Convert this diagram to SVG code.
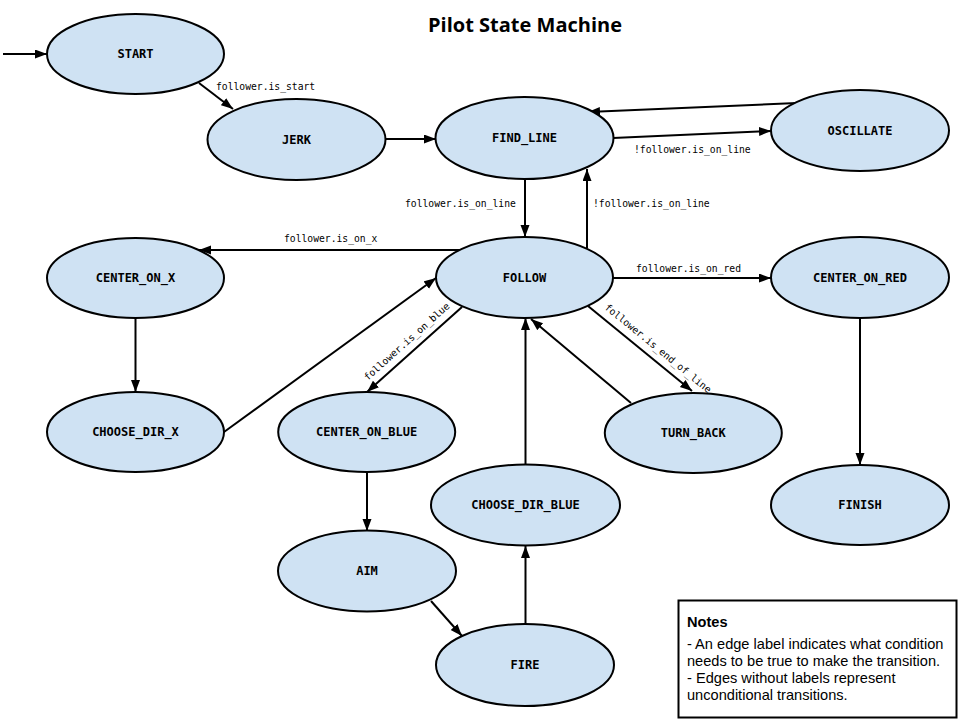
<svg xmlns="http://www.w3.org/2000/svg" width="960" height="720" viewBox="0 0 960 720">
<style>
.node ellipse{fill:#cfe2f3;stroke:#000;stroke-width:2}
.node text{font-family:"DejaVu Sans Mono","Liberation Mono",monospace;font-weight:bold;font-size:12px;text-anchor:middle;fill:#000}
.edges line{stroke:#000;stroke-width:2;marker-end:url(#arr)}
.lbl{font-family:"DejaVu Sans Mono","Liberation Mono",monospace;font-size:9.7px;fill:#000}
.title{font-family:"Open Sans","Noto Sans",sans-serif;font-weight:bold;font-size:20px;text-anchor:middle}
.notes text{font-family:"Liberation Sans",Arial,sans-serif;font-size:14.6px;fill:#000}
</style>
<defs>
<marker id="arr" markerUnits="userSpaceOnUse" markerWidth="13" markerHeight="10" refX="12" refY="4.5" orient="auto">
<path d="M0,0 L12,4.5 L0,9 z" fill="#000"/>
</marker>
</defs>
<rect width="960" height="720" fill="#fff"/>
<text class="title" x="525" y="32">Pilot State Machine</text>

<g class="edges">
<line x1="3" y1="54" x2="47" y2="54"/>
<line x1="199" y1="83" x2="233" y2="109"/>
<line x1="386" y1="139" x2="436" y2="139"/>
<line x1="613" y1="138" x2="771" y2="131"/>
<line x1="797" y1="103" x2="588" y2="112"/>
<line x1="525" y1="179" x2="525" y2="237"/>
<line x1="587" y1="248" x2="587" y2="169"/>
<line x1="460" y1="250" x2="199" y2="250"/>
<line x1="135.5" y1="318" x2="135.5" y2="392"/>
<line x1="224" y1="432" x2="436" y2="278"/>
<line x1="462" y1="307" x2="367" y2="392"/>
<line x1="367" y1="472" x2="367" y2="531"/>
<line x1="431" y1="601" x2="462" y2="636"/>
<line x1="525.5" y1="624" x2="525.5" y2="546"/>
<line x1="525.5" y1="464" x2="525.5" y2="318"/>
<line x1="631" y1="403" x2="531" y2="319"/>
<line x1="588" y1="306" x2="692" y2="391"/>
<line x1="613" y1="278" x2="771" y2="278"/>
<line x1="860" y1="318" x2="860" y2="465"/>
<text class="lbl" x="216" y="90">follower.is_start</text>
<text class="lbl" x="634" y="153">!follower.is_on_line</text>
<text class="lbl" x="405" y="207">follower.is_on_line</text>
<text class="lbl" x="593" y="207">!follower.is_on_line</text>
<text class="lbl" x="284" y="242">follower.is_on_x</text>
<text class="lbl" x="636" y="272">follower.is_on_red</text>
<text class="lbl" text-anchor="middle" transform="translate(409,344) rotate(-41.8)">follower.is_on_blue</text>
<text class="lbl" text-anchor="middle" transform="translate(656,351) rotate(39.3)">follower.is_end_of_line</text>
</g>

<g id="START" class="node"><ellipse cx="135.5" cy="54" rx="88.5" ry="40"/><text x="135.5" y="58">START</text></g>
<g id="JERK" class="node"><ellipse cx="296.5" cy="139.5" rx="89" ry="40.5"/><text x="296.5" y="143.5">JERK</text></g>
<g id="FIND_LINE" class="node"><ellipse cx="524.5" cy="138" rx="89" ry="41"/><text x="524.5" y="142">FIND_LINE</text></g>
<g id="OSCILLATE" class="node"><ellipse cx="860" cy="130.5" rx="89" ry="40.5"/><text x="860" y="134.5">OSCILLATE</text></g>
<g id="CENTER_ON_X" class="node"><ellipse cx="135.5" cy="278" rx="88.5" ry="40"/><text x="135.5" y="282">CENTER_ON_X</text></g>
<g id="FOLLOW" class="node"><ellipse cx="524.5" cy="277.5" rx="88.5" ry="40.5"/><text x="524.5" y="281.5">FOLLOW</text></g>
<g id="CENTER_ON_RED" class="node"><ellipse cx="860" cy="277.5" rx="89" ry="40.5"/><text x="860" y="281.5">CENTER_ON_RED</text></g>
<g id="CHOOSE_DIR_X" class="node"><ellipse cx="135.5" cy="432" rx="88.5" ry="40"/><text x="135.5" y="436">CHOOSE_DIR_X</text></g>
<g id="CENTER_ON_BLUE" class="node"><ellipse cx="366.7" cy="432" rx="88.5" ry="40"/><text x="366.7" y="436">CENTER_ON_BLUE</text></g>
<g id="TURN_BACK" class="node"><ellipse cx="693.3" cy="433" rx="88.5" ry="40"/><text x="693.3" y="437">TURN_BACK</text></g>
<g id="CHOOSE_DIR_BLUE" class="node"><ellipse cx="525.5" cy="505" rx="94.5" ry="40.5"/><text x="525.5" y="509">CHOOSE_DIR_BLUE</text></g>
<g id="FINISH" class="node"><ellipse cx="860" cy="505" rx="89" ry="40"/><text x="860" y="509">FINISH</text></g>
<g id="AIM" class="node"><ellipse cx="367" cy="571" rx="89" ry="40.5"/><text x="367" y="575">AIM</text></g>
<g id="FIRE" class="node"><ellipse cx="525" cy="665" rx="89" ry="41"/><text x="525" y="669">FIRE</text></g>

<g id="notes" class="notes">
<rect x="678.5" y="600.5" width="278" height="117" fill="#fff" stroke="#000" stroke-width="2"/>
<text x="687" y="627" font-weight="bold">Notes</text>
<text x="687" y="649">- An edge label indicates what condition</text>
<text x="687" y="666">needs to be true to make the transition.</text>
<text x="687" y="683">- Edges without labels represent</text>
<text x="687" y="700">unconditional transitions.</text>
</g>
</svg>
